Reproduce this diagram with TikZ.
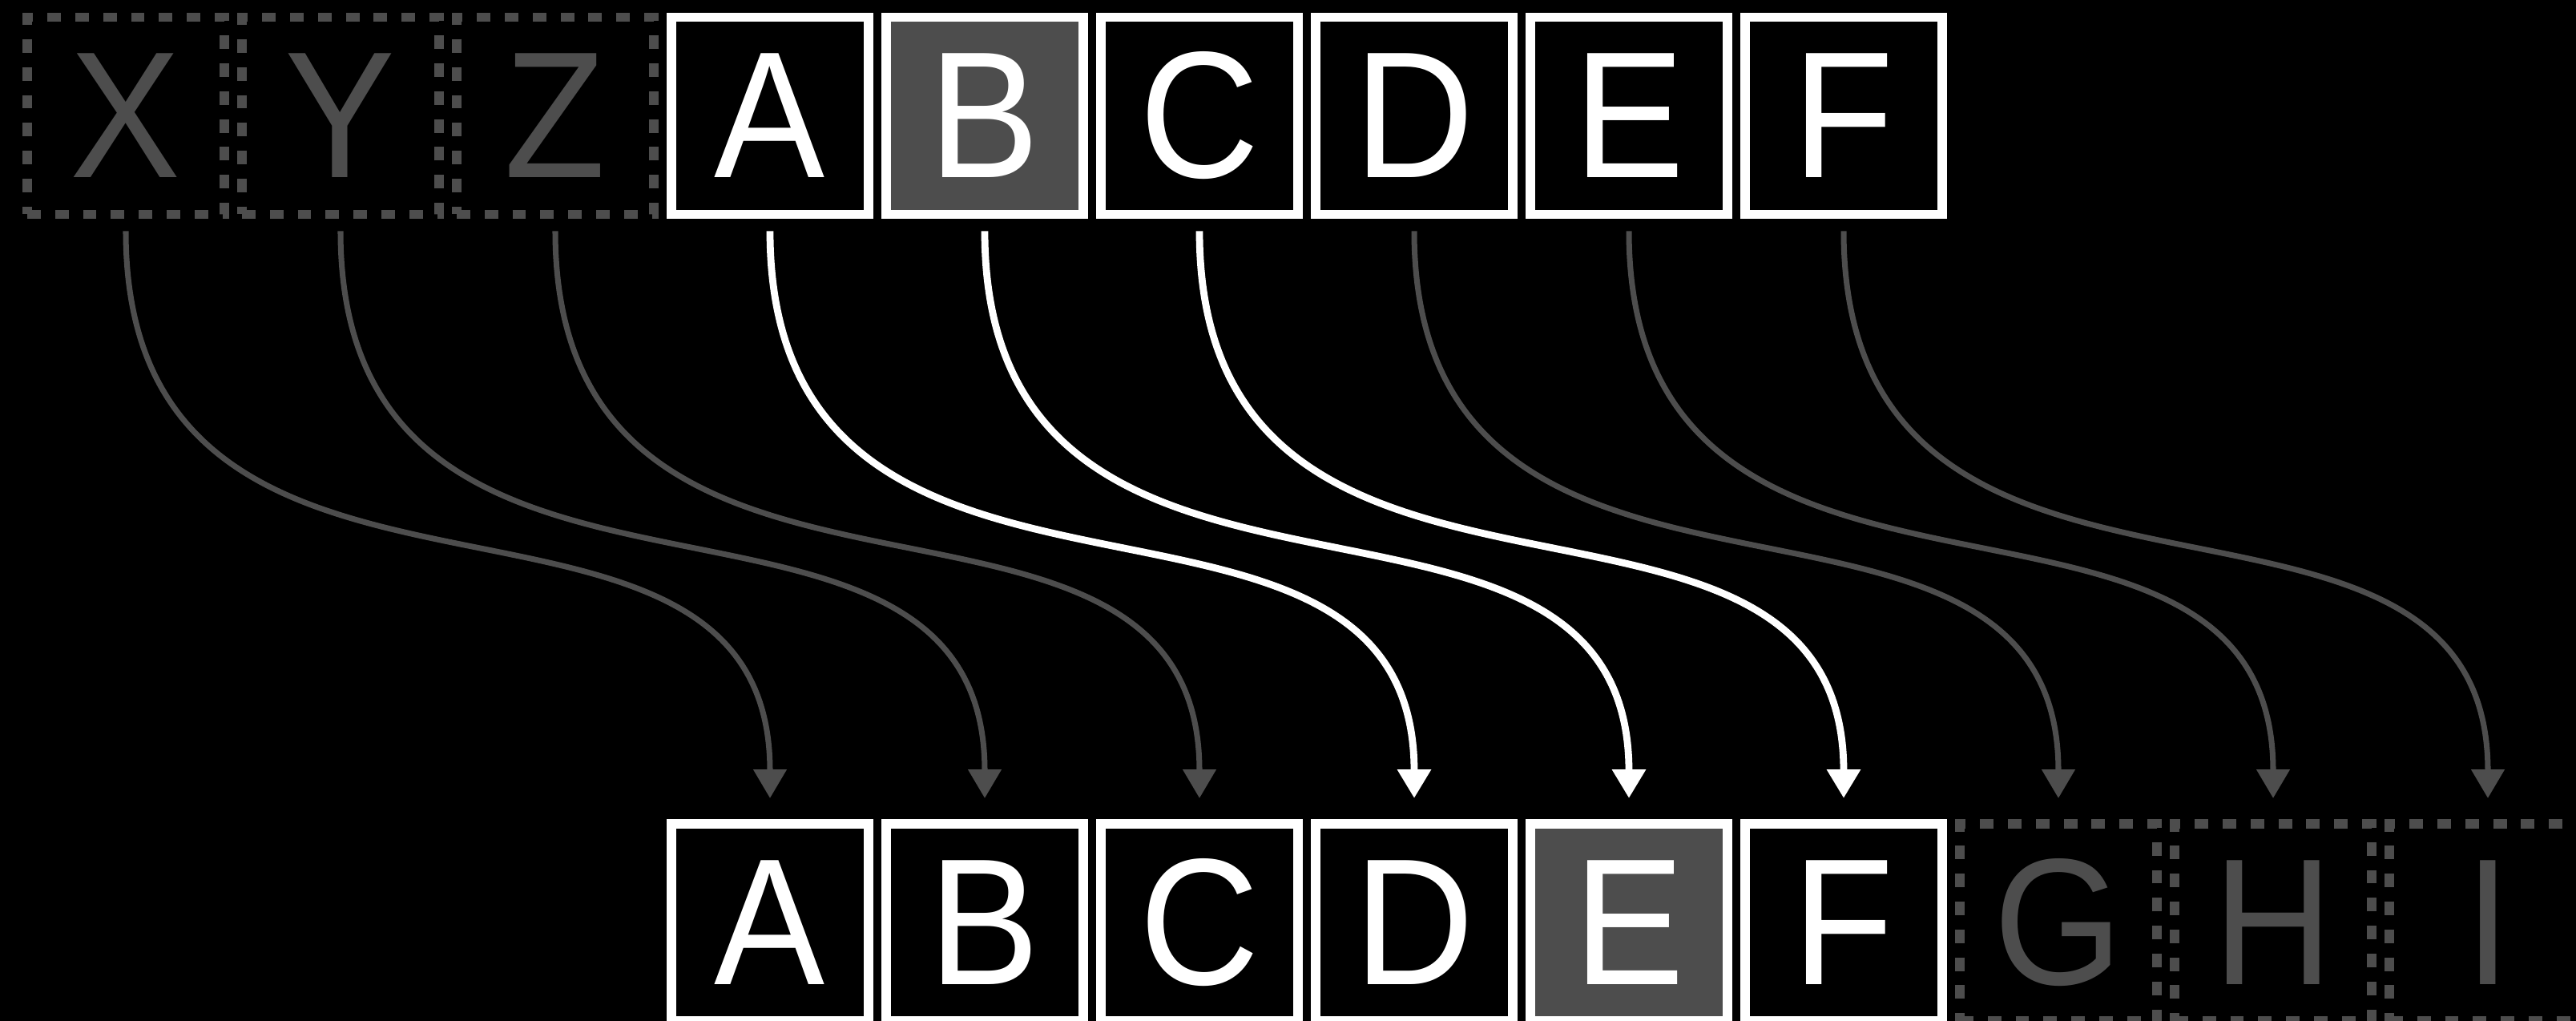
\documentclass[tikz,border=0pt]{standalone}
\usepackage{fontspec}
\setmainfont{Liberation Sans}[FakeStretch=0.92]
\usetikzlibrary{arrows.meta}
\definecolor{dimgray}{HTML}{4D4D4D}
\begin{document}
\begin{tikzpicture}[font=\fontsize{64}{64}\selectfont, >={Triangle[length=10.2pt, width=11.4pt]},
          box/.style={minimum size=2.46cm, inner sep=0pt, line width=3.4pt},
          slot/.style={box, draw=white, fill=black, text=white},
          picked/.style={slot, fill=dimgray},
          pad/.style={box, draw=dimgray, text=dimgray, dash pattern=on 4.8pt off 5.1pt},
          link/.style={->, color=dimgray, line width=2pt, shorten <=0.15cm, shorten >=0.26cm},
          linkhi/.style={link, color=white, line width=2.5pt}]
        \useasboundingbox (0,0) rectangle (32.15,-12.74);
        \clip (0,0) rectangle (32.15,-12.74);
        \fill[black] (0,0) rectangle (32.15,-12.74);
        % upper row
        \node[pad] (topX) at (1.57,-1.445) {X};
        \node[pad] (topY) at (4.25,-1.445) {Y};
        \node[pad] (topZ) at (6.93,-1.445) {Z};
        \node[slot] (topA) at (9.61,-1.445) {A};
        \node[picked] (topB) at (12.29,-1.445) {B};
        \node[slot] (topC) at (14.97,-1.445) {C};
        \node[slot] (topD) at (17.65,-1.445) {D};
        \node[slot] (topE) at (20.33,-1.445) {E};
        \node[slot] (topF) at (23.01,-1.445) {F};
        % lower row
        \node[slot] (botA) at (9.61,-11.51) {A};
        \node[slot] (botB) at (12.29,-11.51) {B};
        \node[slot] (botC) at (14.97,-11.51) {C};
        \node[slot] (botD) at (17.65,-11.51) {D};
        \node[picked] (botE) at (20.33,-11.51) {E};
        \node[slot] (botF) at (23.01,-11.51) {F};
        \node[pad] (botG) at (25.69,-11.51) {G};
        \node[pad] (botH) at (28.37,-11.51) {H};
        \node[pad] (botI) at (31.05,-11.51) {I};
        % moves
        \draw[link] (topX.south) .. controls +(0,-5.9) and +(0,5.0) .. (botA.north);
        \draw[link] (topY.south) .. controls +(0,-5.9) and +(0,5.0) .. (botB.north);
        \draw[link] (topZ.south) .. controls +(0,-5.9) and +(0,5.0) .. (botC.north);
        \draw[linkhi] (topA.south) .. controls +(0,-5.9) and +(0,5.0) .. (botD.north);
        \draw[linkhi] (topB.south) .. controls +(0,-5.9) and +(0,5.0) .. (botE.north);
        \draw[linkhi] (topC.south) .. controls +(0,-5.9) and +(0,5.0) .. (botF.north);
        \draw[link] (topD.south) .. controls +(0,-5.9) and +(0,5.0) .. (botG.north);
        \draw[link] (topE.south) .. controls +(0,-5.9) and +(0,5.0) .. (botH.north);
        \draw[link] (topF.south) .. controls +(0,-5.9) and +(0,5.0) .. (botI.north);
      \end{tikzpicture}
\end{document}
